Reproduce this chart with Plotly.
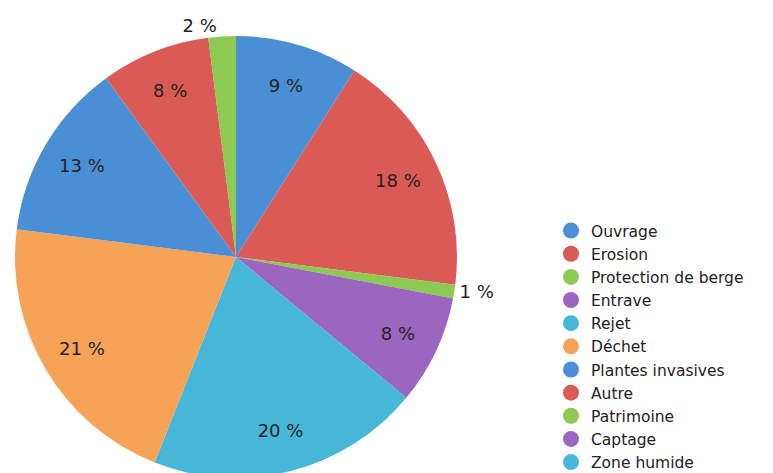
import plotly.graph_objects as go

categories = ["Ouvrage", "Erosion", "Protection de berge", "Entrave", "Rejet",
              "Déchet", "Plantes invasives", "Autre", "Patrimoine", "Captage", "Zone humide"]
values = [9, 18, 1, 8, 20, 21, 13, 8, 2, 0, 0]
palette = ["#4A8FD6", "#DA5B56", "#8DCA53", "#9A66BF", "#46B7D7", "#F6A257"]
colors = [palette[i % len(palette)] for i in range(len(categories))]

FONT = "DejaVu Sans"
TXT = "#222222"

pie_labels = [c for c, v in zip(categories, values) if v > 0]
pie_values = [v for v in values if v > 0]
pie_colors = [col for col, v in zip(colors, values) if v > 0]
text_pos = ["outside" if v < 5 else "inside" for v in pie_values]

W, H = 773, 473
DOMAIN = dict(x=[7 / W, 449 / W], y=[3 / H, 445 / H])
fnt = dict(family=FONT, size=18, color=TXT)

fig = go.Figure()
# coloured slices
fig.add_trace(go.Pie(
    labels=pie_labels, values=pie_values,
    marker=dict(colors=pie_colors, line=dict(width=0)),
    sort=False, direction="clockwise", rotation=0,
    textinfo="none",
    showlegend=False, hoverinfo="skip", domain=DOMAIN,
))
# percentage labels, placed in an outer ring of the same pie
fig.add_trace(go.Pie(
    labels=pie_labels, values=pie_values, hole=0.62,
    marker=dict(colors=["rgba(0,0,0,0)"] * len(pie_values), line=dict(width=0)),
    sort=False, direction="clockwise", rotation=0,
    texttemplate="%{value} %", textposition=text_pos,
    insidetextorientation="horizontal",
    textfont=fnt, insidetextfont=fnt, outsidetextfont=fnt,
    showlegend=False, hoverinfo="label+value", domain=DOMAIN,
))

for cat, col in zip(categories, colors):
    fig.add_trace(go.Scatter(
        x=[None], y=[None], mode="markers", name=cat,
        marker=dict(symbol="circle", size=16, color=col),
        showlegend=True, hoverinfo="skip",
    ))

fig.update_layout(
    width=W, height=H,
    margin=dict(l=0, r=0, t=0, b=0, autoexpand=False),
    paper_bgcolor="white", plot_bgcolor="white",
    xaxis=dict(visible=False), yaxis=dict(visible=False),
    legend=dict(x=543 / W, xanchor="left", y=1 - 206 / H, yanchor="top",
                font=dict(family=FONT, size=15.5, color=TXT),
                bgcolor="rgba(0,0,0,0)", borderwidth=0,
                itemclick=False, itemdoubleclick=False),
    font=dict(family=FONT),
)

fig.write_html("out.html")
